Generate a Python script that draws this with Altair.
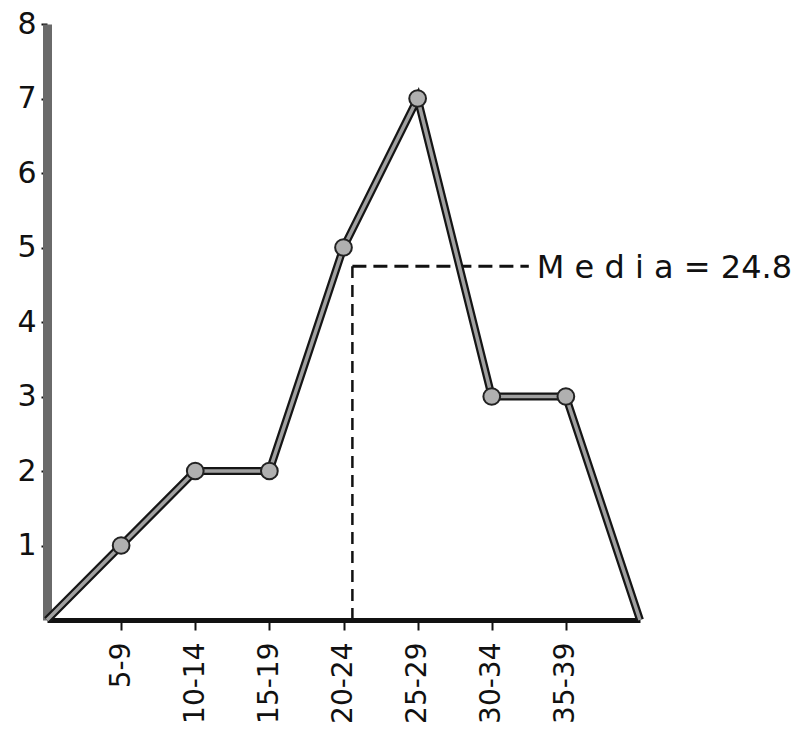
import json
import altair as alt
import pandas as pd

# Frequency polygon data (class index positions, frequencies)
positions = [0, 1, 2, 3, 4, 5, 6, 7, 8]
frequencies = [0, 1, 2, 2, 5, 7, 3, 3, 0]
class_labels = ["5-9", "10-14", "15-19", "20-24", "25-29", "30-34", "35-39"]
class_positions = [1, 2, 3, 4, 5, 6, 7]
y_ticks = [1, 2, 3, 4, 5, 6, 7, 8]

# Median marker (as drawn in the figure)
median_x = [4.12]
median_y = [4.75]
median_label_x = [6.5]
median_text = ["M e d i a = 24.8"]

FONT = "DejaVu Sans"

df = pd.DataFrame({"pos": positions, "freq": frequencies})
pts = df[df["pos"].isin(class_positions)]
med = pd.DataFrame({"mx": median_x, "my": median_y, "mx2": median_label_x,
                    "zero": [0], "txt": median_text})

label_arr = [""] + class_labels + [""]
label_expr = json.dumps(label_arr) + "[datum.value]"

xscale = alt.Scale(domain=[0, 8], nice=False, zero=False)
yscale = alt.Scale(domain=[0, 8], nice=False)

xaxis = alt.Axis(values=class_positions, labelExpr=label_expr, labelAngle=270,
                 labelFontSize=28, labelFont=FONT, labelColor="#111",
                 tickSize=10, tickColor="#111", tickWidth=2,
                 domainColor="#111", domainWidth=5, grid=False, title=None,
                 labelPadding=12)
yaxis = alt.Axis(values=y_ticks, format="d", labelFontSize=30, labelFont=FONT,
                 labelColor="#111",
                 tickSize=6, tickColor="#111", tickWidth=2,
                 domainColor="#6a6a6a", domainWidth=9, grid=False, title=None,
                 labelPadding=5)

base = alt.Chart(df)
outer = base.mark_line(color="#151515", strokeWidth=8).encode(
    x=alt.X("pos:Q", scale=xscale, axis=xaxis),
    y=alt.Y("freq:Q", scale=yscale, axis=yaxis),
)
inner = base.mark_line(color="#a0a0a0", strokeWidth=3.5).encode(
    x=alt.X("pos:Q", scale=xscale),
    y=alt.Y("freq:Q", scale=yscale),
)
dots = alt.Chart(pts).mark_point(filled=True, size=280, fill="#b0b0b0",
                                 stroke="#222", strokeWidth=2, opacity=1).encode(
    x=alt.X("pos:Q", scale=xscale),
    y=alt.Y("freq:Q", scale=yscale),
)

mbase = alt.Chart(med)
vrule = mbase.mark_rule(color="#111", strokeWidth=2.5, strokeDash=[12, 7]).encode(
    x=alt.X("mx:Q", scale=xscale),
    y=alt.Y("zero:Q", scale=yscale),
    y2="my:Q",
)
hrule = mbase.mark_rule(color="#111", strokeWidth=3, strokeDash=[14, 7]).encode(
    x=alt.X("mx:Q", scale=xscale),
    x2="mx2:Q",
    y=alt.Y("my:Q", scale=yscale),
)
mtext = mbase.mark_text(align="left", baseline="middle", dx=8, dy=2, fontSize=32,
                        font=FONT, color="#111").encode(
    x=alt.X("mx2:Q", scale=xscale),
    y=alt.Y("my:Q", scale=yscale),
    text="txt:N",
)

chart = alt.layer(vrule, hrule, outer, inner, dots, mtext).properties(
    width=593, height=596,
    autosize=alt.AutoSizeParams(type="none"),
    padding={"left": 39, "top": 16, "right": 152, "bottom": 108},
    background="white",
).configure_view(stroke=None)

chart.save("out.html", embed_options={"renderer": "svg", "actions": False})
